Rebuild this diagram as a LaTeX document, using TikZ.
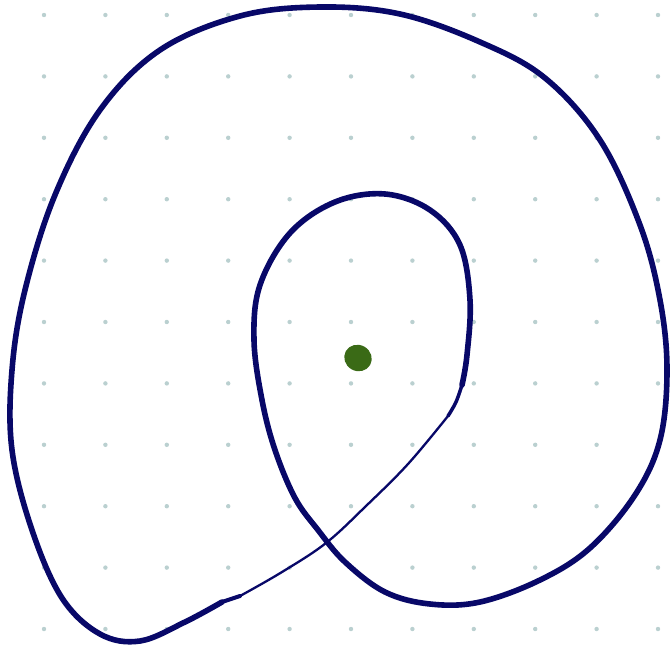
\documentclass[tikz,border=0pt]{standalone}
\usepackage{xcolor}
\usepackage{tikz}

\definecolor{penblue}{RGB}{8,8,104}
\definecolor{gridgrey}{RGB}{186,208,208}
\definecolor{spotgreen}{RGB}{58,106,22}

\tikzset{
  pen/.style={draw=penblue,line cap=round,line join=round},
  griddot/.style={fill=gridgrey},
}

\begin{document}
\begin{tikzpicture}[x=1pt,y=-1pt]
\useasboundingbox (0,0) rectangle (671,651);
\fill[white] (0,0) rectangle (671,651);
% dotted paper
\foreach \i in {0,...,10}
  \foreach \j in {0,...,10}
    \fill[griddot] (44+61.4*\i,15+61.4*\j) circle (2.2);
% thick stroke: outer loop, crossing, inner loop
\draw[pen,line width=5.6] plot[smooth,tension=0.6] coordinates {
  (222,602) (185,622) (140,641) (100,634) (62,598) (32,530) (12,450)
  (12,370) (25,290) (55,195) (100,110) (160,50) (240,16) (320,7)
  (400,14) (480,42) (545,78) (600,140) (640,225) (660,300) (667,370)
  (660,440) (635,495) (590,548) (540,580) (480,602) (430,604) (385,592)
  (345,562) (318,530) (295,498) (275,450) (262,400) (254,340) (260,285)
  (290,233) (335,202) (385,194) (430,210) (460,245) (470,300) (467,355)
  (462,385)};
\draw[pen,line width=3.5] plot[smooth,tension=0.6] coordinates {
  (462,385) (456,402) (448,416)};
% thin return line
\draw[pen,line width=2.3] plot[smooth,tension=0.6] coordinates {
  (448,416) (408,464) (366,506) (326,543) (282,572) (240,596)};
\draw[pen,line width=4] (240,596) -- (222,602);
% green spot
\coordinate (spot) at (358,358);
\fill[spotgreen,rotate around={-30:(spot)}] (spot) ellipse (14 and 13);
\end{tikzpicture}
\end{document}
